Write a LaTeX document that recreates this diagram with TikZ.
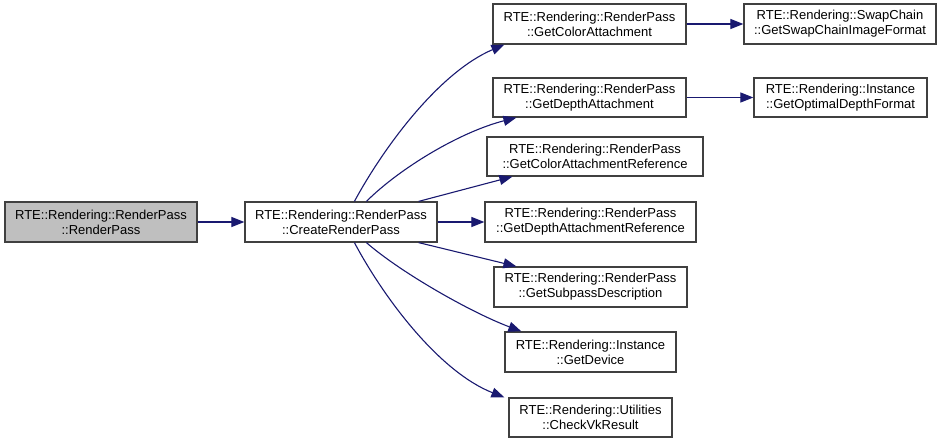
\documentclass[tikz,border=0pt]{standalone}
\usepackage{fontspec}
\setmainfont{Liberation Sans}
\usetikzlibrary{arrows.meta}
\definecolor{edgeblue}{RGB}{25,25,112}
\definecolor{boxgray}{RGB}{191,191,191}
\begin{document}
\begin{tikzpicture}[x=1pt,y=-1pt,
  fn/.style={draw=black!75,line width=1.2pt,fill=white,inner sep=0pt,align=center,
    font=\fontsize{13}{15}\selectfont},
  cur/.style={fn,fill=boxgray},
  call/.style={draw=edgeblue,line width=1.1pt,-{Triangle[length=13pt,width=10pt]}}]
\useasboundingbox (0,0) rectangle (941,444);
\newcommand{\fnbox}[7]{% name, style, x1,y1,x2,y2, text
  \node[#2,minimum width={#5-#3},minimum height={#6-#4}] (#1) at ({(#3+#5)/2},{(#4+#6)/2}) {#7};}
\fnbox{a}{cur}{5}{202}{197}{242}{RTE::Rendering::RenderPass\\::RenderPass}
\fnbox{b}{fn}{245}{202}{437}{242}{RTE::Rendering::RenderPass\\::CreateRenderPass}
\fnbox{c1}{fn}{493}{4}{686}{44}{RTE::Rendering::RenderPass\\::GetColorAttachment}
\fnbox{c2}{fn}{493}{78}{686}{117}{RTE::Rendering::RenderPass\\::GetDepthAttachment}
\fnbox{c3}{fn}{487}{137}{703}{176}{RTE::Rendering::RenderPass\\::GetColorAttachmentReference}
\fnbox{c4}{fn}{485}{202}{696}{242}{RTE::Rendering::RenderPass\\::GetDepthAttachmentReference}
\fnbox{c5}{fn}{494}{267}{687}{307}{RTE::Rendering::RenderPass\\::GetSubpassDescription}
\fnbox{c6}{fn}{505}{332}{676}{372}{RTE::Rendering::Instance\\::GetDevice}
\fnbox{c7}{fn}{509}{398}{672}{437}{RTE::Rendering::Utilities\\::CheckVkResult}
\fnbox{d1}{fn}{744}{4}{936}{44}{RTE::Rendering::SwapChain\\::GetSwapChainImageFormat}
\fnbox{d2}{fn}{754}{78}{927}{117}{RTE::Rendering::Instance\\::GetOptimalDepthFormat}
\draw[call] (a.east) -- (b.west);
\draw[call] (b.north west) ++(110,0) .. controls (385,145) and (440,72) .. ([xshift=12pt]c1.south west);
\draw[call] (b.north west) ++(122,0) .. controls (400,168) and (460,132) .. ([xshift=24pt]c2.south west);
\draw[call] (b.north east) ++(-19,0) -- ([xshift=26pt]c3.south west);
\draw[call] (b.east) -- (c4.west);
\draw[call] (b.south east) ++(-19,0) -- ([xshift=23pt]c5.north west);
\draw[call] (b.south west) ++(122,0) .. controls (400,272) and (470,312) .. ([xshift=17pt]c6.north west);
\draw[call] (b.south west) ++(110,0) .. controls (385,300) and (440,372) .. ([xshift=-4pt]c7.north west);
\draw[call] (c1.east) -- (d1.west);
\draw[call] (c2.east) -- (d2.west);
\end{tikzpicture}
\end{document}
